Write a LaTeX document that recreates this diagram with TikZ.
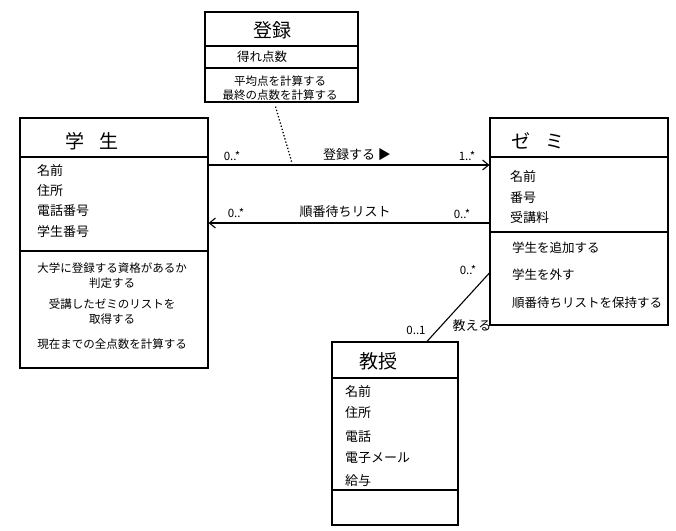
\documentclass[tikz,border=0pt]{standalone}
\usepackage{fontspec}
\setmainfont{Noto Sans CJK JP}
\usetikzlibrary{arrows.meta}
\begin{document}
\begin{tikzpicture}[x=1pt,y=-1pt,
  classbox/.style={draw,line width=1.2pt,inner sep=0pt},
  divider/.style={line width=1.2pt},
  ttl/.style={font=\fontsize{19}{21}\selectfont},
  attr/.style={anchor=west,inner sep=0pt,font=\fontsize{13}{15}\selectfont},
  op/.style={inner sep=0pt,font=\fontsize{11.5}{15}\selectfont,align=center},
  mult/.style={inner sep=0pt,font=\fontsize{11.5}{13}\selectfont},
  lbl/.style={inner sep=0pt,font=\fontsize{13}{15}\selectfont},
  assoc/.style={line width=1.1pt,-{Straight Barb[length=6pt,width=10pt]}},
  plain/.style={line width=1.1pt}]
\useasboundingbox[fill=white] (0,0) rectangle (676,530);

% classes
\node[classbox,minimum width=188pt,minimum height=250pt] (student) at (114,243) {};
\node[classbox,minimum width=178pt,minimum height=207pt] (zemi) at (579,221.5) {};
\node[classbox,minimum width=126pt,minimum height=183pt] (kyouju) at (395,433.5) {};
\node[classbox,minimum width=153pt,minimum height=90pt] (touroku) at (281.5,57) {};

% dividers
\draw[divider] (student.west |- 0,157) -- (student.east |- 0,157);
\draw[divider] (student.west |- 0,251) -- (student.east |- 0,251);
\draw[divider] (zemi.west |- 0,157) -- (zemi.east |- 0,157);
\draw[divider] (zemi.west |- 0,232) -- (zemi.east |- 0,232);
\draw[divider] (kyouju.west |- 0,378) -- (kyouju.east |- 0,378);
\draw[divider] (kyouju.west |- 0,490) -- (kyouju.east |- 0,490);
\draw[divider] (touroku.west |- 0,46) -- (touroku.east |- 0,46);
\draw[divider] (touroku.west |- 0,68) -- (touroku.east |- 0,68);

% 登録
\node[ttl] (t-title) at (272,30) {登録};
\node[inner sep=0pt,font=\fontsize{12.5}{14}\selectfont] (t-attr) at (262,57) {得れ点数};
\node[op] (t-op1) at (280,81) {平均点を計算する};
\node[op] (t-op2) at (280,95) {最終の点数を計算する};

% 学生
\node[ttl] (s-title) at (92,141) {学\hspace{0.8em}生};
\node[attr] (s-a1) at (37,171) {名前};
\node[attr] (s-a2) at (37,191) {住所};
\node[attr] (s-a3) at (37,211) {電話番号};
\node[attr] (s-a4) at (37,232) {学生番号};
\node[op] (s-op1) at (112,276) {大学に登録する資格があるか\\判定する};
\node[op] (s-op2) at (112,312) {受講したゼミのリストを\\取得する};
\node[op] (s-op3) at (112,344) {現在までの全点数を計算する};

% ゼミ
\node[ttl] (z-title) at (538,141) {ゼ\hspace{0.8em}ミ};
\node[attr] (z-a1) at (510,177) {名前};
\node[attr] (z-a2) at (510,198) {番号};
\node[attr] (z-a3) at (510,218) {受講料};
\node[attr,font=\fontsize{12.5}{14}\selectfont] (z-op1) at (512,248) {学生を追加する};
\node[attr,font=\fontsize{12.5}{14}\selectfont] (z-op2) at (512,275) {学生を外す};
\node[attr,font=\fontsize{12.5}{14}\selectfont] (z-op3) at (512,303) {順番待ちリストを保持する};

% 教授
\node[ttl] (k-title) at (378,361) {教授};
\node[attr] (k-a1) at (345,392) {名前};
\node[attr] (k-a2) at (345,413) {住所};
\node[attr] (k-a3) at (345,437) {電話};
\node[attr] (k-a4) at (345,458) {電子メール};
\node[attr] (k-a5) at (345,481) {給与};

% associations
\coordinate (assocpt) at (292,163);
\draw[assoc] (student.east |- 0,165) -- (zemi.west |- 0,165);
\draw[assoc] (zemi.west |- 0,223) -- (student.east |- 0,223);
\draw[line width=1.3pt,dotted] ([xshift=-6pt,yshift=-4pt]touroku.south) -- (assocpt);
\draw[plain] ([xshift=32pt]kyouju.north) -- (zemi.west |- 0,273);

% labels
\node[mult] (m1) at (232,156) {0..*};
\node[lbl] (l1) at (357,155) {登録する ▶};
\node[mult] (m2) at (467,156) {1..*};
\node[mult] (m3) at (236,213) {0..*};
\node[lbl] (l2) at (345,212) {順番待ちリスト};
\node[mult] (m4) at (462,214) {0..*};
\node[mult] (m5) at (468,270) {0..*};
\node[mult] (m6) at (416,330) {0..1};
\node[lbl] (l3) at (472,326) {教える};
\end{tikzpicture}
\end{document}
